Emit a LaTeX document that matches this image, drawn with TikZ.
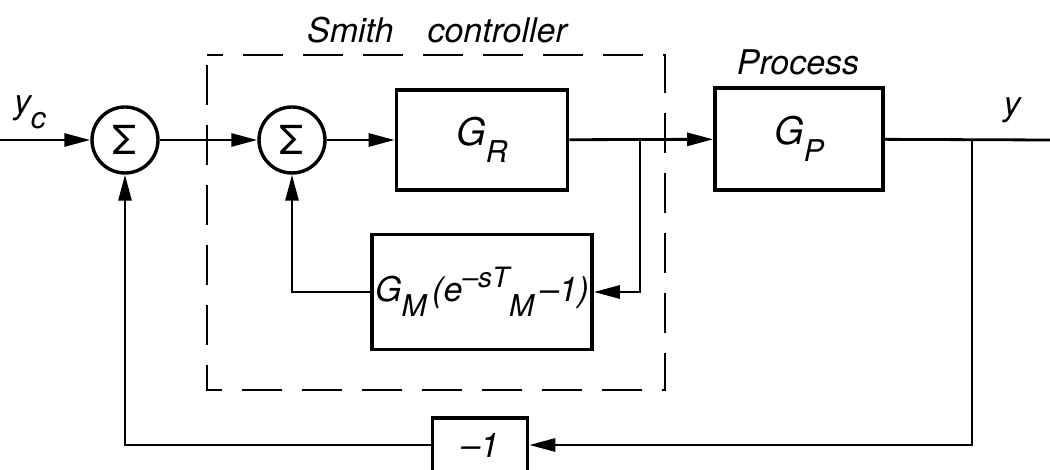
\documentclass[tikz,border=0pt]{standalone}
\usepackage{fontspec}
\setmainfont{TeX Gyre Heros}
\usetikzlibrary{arrows.meta}
\newcommand\lowsub[1]{\raisebox{-0.45em}{\fontsize{30}{32}\selectfont #1}}
\newcommand\hisup[1]{\raisebox{0.42em}{\fontsize{28}{30}\selectfont #1}}
\begin{document}
\begin{tikzpicture}[x=1pt,y=-1pt,
  ln/.style={line width=2.8pt},
  arr/.style={ln,-{Triangle[length=26pt,width=13pt]}},
  blk/.style={draw,line width=3.6pt,inner sep=0pt,font=\fontsize{38}{40}\selectfont\itshape},
  sumc/.style={draw,circle,line width=3.4pt,minimum size=66pt,inner sep=0pt,font=\fontsize{40}{42}\selectfont},
  lbl/.style={font=\fontsize{34}{36}\selectfont\itshape,inner sep=0pt}]
\useasboundingbox (0,0) rectangle (1050,470);
\node[sumc] (s1) at (125,140) {Σ};
\node[sumc] (s2) at (292,140) {Σ};
\node[blk,minimum width=171pt,minimum height=100pt] (gr) at (482,140) {G\lowsub{R}};
\node[blk,minimum width=220pt,minimum height=115pt,font=\fontsize{34}{36}\selectfont\itshape] (gm) at (482,292) {G\lowsub{M}\,(e\hisup{–sT}\lowsub{M}\,–1)};
\node[blk,minimum width=168pt,minimum height=102pt] (gp) at (799,139) {G\lowsub{P}};
\node[blk,minimum width=95pt,minimum height=54pt,font=\fontsize{34}{36}\selectfont\itshape] (m1) at (480,445) {–1};
\coordinate (in) at (0,140);
\coordinate (out) at (1050,140);
\coordinate (b1) at (640,140);
\coordinate (b2) at (972,140);
\draw[arr] (in) -- (s1);
\draw[arr] (s1) -- (s2);
\draw[arr] (s2) -- (gr);
\draw[arr] (gr) -- (gp);
\draw[arr] (b1) |- (gm.east);
\draw[arr] (gm.west) -| (s2.south);
\draw[ln] (gp) -- (out);
\draw[arr] (b2) |- (m1.east);
\draw[arr] (m1.west) -| (s1.south);
\draw[line width=2.4pt,dash pattern=on 40pt off 20pt,dash phase=-10pt] (207,55) rectangle (665,390);
\node[lbl] (yc) at (30,112) {y\lowsub{c}};
\node[lbl] (y) at (1012,110) {y};
\node[lbl] (proc) at (798,62) {Process};
\node[lbl] (smith) at (437,30) {Smith\quad controller};
\end{tikzpicture}
\end{document}
